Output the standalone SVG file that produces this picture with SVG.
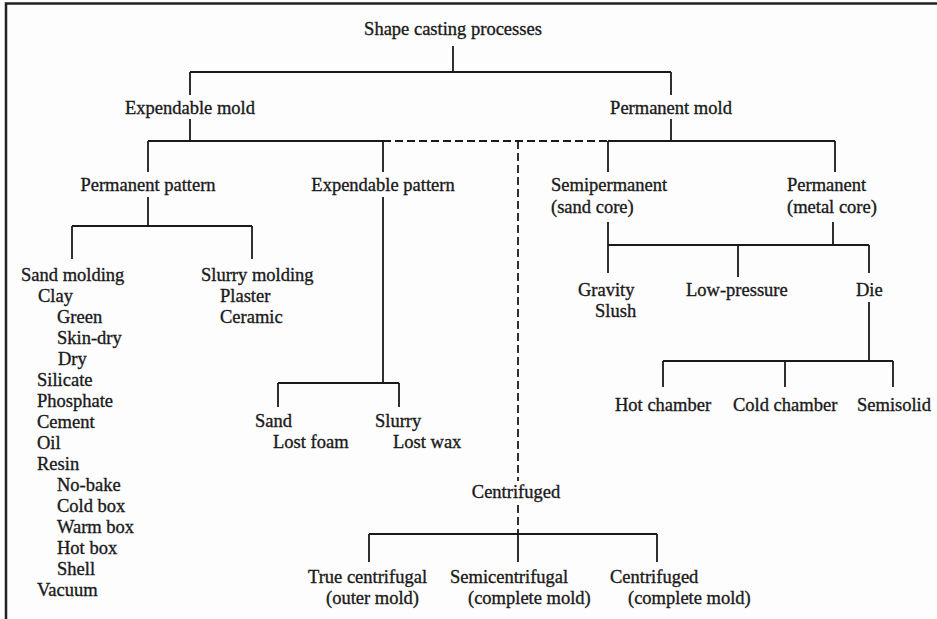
<svg xmlns="http://www.w3.org/2000/svg" width="937" height="619" viewBox="0 0 937 619">
  <style>
    text { font-family: "Liberation Serif", "Times New Roman", serif; font-size: 18.5px; fill: #1a1a1a; stroke: #1a1a1a; stroke-width: 0.35; }
    .mid { text-anchor: middle; }
    .ln { fill: none; stroke: #1a1a1a; stroke-width: 1.8; }
    .dash { stroke-dasharray: 8 4; }
    .frame { fill: none; stroke: #222; stroke-width: 2.5; }
  </style>
  <rect x="0" y="0" width="937" height="619" fill="#fdfdfd"/>
  <!-- outer frame (top and left edges) -->
  <path class="frame" d="M6 619 V3.5 H937"/>

  <g id="connectors">
    <!-- root split -->
    <path class="ln" d="M453 46 V72 M190 72 H671 M190 72 V95 M671 72 V95"/>
    <!-- second level bar -->
    <path class="ln" d="M190 119 V141 M671 119 V141 M148 141 H383 M608 141 H835"/>
    <path class="ln dash" d="M383 141 H608"/>
    <path class="ln" d="M148 141 V172 M383 141 V172 M608 141 V172 M835 141 V172"/>
    <path class="ln dash" d="M518 141 V481 M518 505 V534"/>
    <!-- permanent pattern -->
    <path class="ln" d="M148 197 V226 M72 226 H252 M72 226 V259 M252 226 V259"/>
    <!-- expendable pattern -->
    <path class="ln" d="M383 197 V383 M278 383 H399 M278 383 V407 M399 383 V407"/>
    <!-- semipermanent / permanent -->
    <path class="ln" d="M608 222 V245 M833 222 V245 M608 245 H869 M608 245 V273 M738 245 V277 M869 245 V273"/>
    <!-- die -->
    <path class="ln" d="M869 302 V361 M663 361 H893 M663 361 V387 M785 361 V387 M893 361 V387"/>
    <!-- centrifuged -->
    <path class="ln" d="M369 534 H657 M369 534 V562 M518 534 V562 M657 534 V562"/>
  </g>

  <g id="root"><text class="mid" x="453" y="35">Shape casting processes</text></g>
  <g id="expendable-mold"><text class="mid" x="190" y="114">Expendable mold</text></g>
  <g id="permanent-mold"><text class="mid" x="671" y="114">Permanent mold</text></g>

  <g id="permanent-pattern"><text class="mid" x="148" y="191">Permanent pattern</text></g>
  <g id="expendable-pattern"><text class="mid" x="383" y="191">Expendable pattern</text></g>
  <g id="semipermanent">
    <text x="551" y="191">Semipermanent</text>
    <text x="551" y="213">(sand core)</text>
  </g>
  <g id="permanent-metal-core">
    <text x="787" y="191">Permanent</text>
    <text x="787" y="213">(metal core)</text>
  </g>

  <g id="sand-molding">
    <text x="21" y="281">Sand molding</text>
    <text x="38" y="302">Clay</text>
    <text x="57" y="323">Green</text>
    <text x="57" y="344">Skin-dry</text>
    <text x="58" y="365">Dry</text>
    <text x="37" y="386">Silicate</text>
    <text x="37" y="407">Phosphate</text>
    <text x="37" y="428">Cement</text>
    <text x="37" y="449">Oil</text>
    <text x="37" y="470">Resin</text>
    <text x="57" y="491">No-bake</text>
    <text x="57" y="512">Cold box</text>
    <text x="57" y="533">Warm box</text>
    <text x="57" y="554">Hot box</text>
    <text x="57" y="575">Shell</text>
    <text x="37" y="596">Vacuum</text>
  </g>
  <g id="slurry-molding">
    <text x="201" y="281">Slurry molding</text>
    <text x="220" y="302">Plaster</text>
    <text x="220" y="323">Ceramic</text>
  </g>

  <g id="sand-lost-foam">
    <text x="255" y="427">Sand</text>
    <text x="273" y="448">Lost foam</text>
  </g>
  <g id="slurry-lost-wax">
    <text x="375" y="427">Slurry</text>
    <text x="393" y="448">Lost wax</text>
  </g>

  <g id="gravity">
    <text x="578" y="296">Gravity</text>
    <text x="595" y="317">Slush</text>
  </g>
  <g id="low-pressure"><text x="686" y="296">Low-pressure</text></g>
  <g id="die"><text x="856" y="296">Die</text></g>

  <g id="hot-chamber"><text x="615" y="411">Hot chamber</text></g>
  <g id="cold-chamber"><text x="733" y="411">Cold chamber</text></g>
  <g id="semisolid"><text x="857" y="411">Semisolid</text></g>

  <g id="centrifuged"><text class="mid" x="516" y="498">Centrifuged</text></g>
  <g id="true-centrifugal">
    <text x="308" y="583">True centrifugal</text>
    <text x="326" y="604">(outer mold)</text>
  </g>
  <g id="semicentrifugal">
    <text x="450" y="583">Semicentrifugal</text>
    <text x="468" y="604">(complete mold)</text>
  </g>
  <g id="centrifuged-complete">
    <text x="610" y="583">Centrifuged</text>
    <text x="628" y="604">(complete mold)</text>
  </g>
</svg>
